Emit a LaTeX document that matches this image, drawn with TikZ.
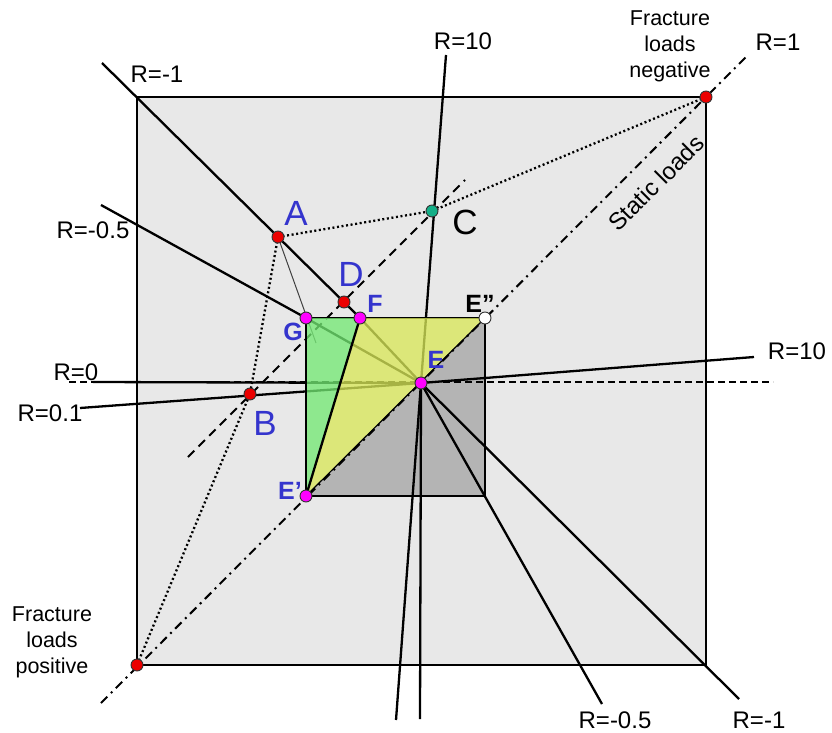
\documentclass[tikz,border=0pt]{standalone}
\usepackage{fontspec}
\setmainfont{Liberation Sans}
\definecolor{bgsq}{RGB}{232,232,232}
\definecolor{smsq}{RGB}{180,180,180}
\definecolor{yfill}{RGB}{237,254,97}
\definecolor{gfill}{RGB}{126,255,126}
\definecolor{lblue}{RGB}{52,52,205}
\definecolor{ptred}{RGB}{235,0,0}
\definecolor{ptteal}{RGB}{20,175,135}
\definecolor{ptmag}{RGB}{255,0,255}
\begin{document}
\begin{tikzpicture}[x=1pt,y=-1pt,
  ln/.style={line width=2.3pt},
  thinln/.style={line width=1pt, black!75},
  dotln/.style={line width=2.3pt, dash pattern=on 2pt off 2.6pt},
  dashln/.style={line width=2pt, dash pattern=on 9pt off 6pt},
  dashdotln/.style={line width=2pt, dash pattern=on 9pt off 5pt on 2pt off 5pt},
  zeroln/.style={line width=1.7pt, dash pattern=on 7pt off 4pt},
  lbl/.style={font=\fontsize{24}{26}\selectfont, inner sep=0pt},
  flbl/.style={font=\fontsize{21.5}{26}\selectfont, inner sep=0pt, align=center},
  big/.style={font=\fontsize{35}{36}\selectfont, inner sep=0pt, text=lblue},
  bld/.style={font=\fontsize{25}{27}\selectfont\bfseries, inner sep=0pt, text=lblue},
  pt/.style={circle, inner sep=0pt, minimum size=12pt, draw=black!80, line width=0.9pt},
]
\useasboundingbox (0,0) rectangle (832,733);

% key points
\coordinate (TL) at (137,97);
\coordinate (TR) at (706,97);
\coordinate (BR) at (706,665);
\coordinate (BL) at (137,665);
\coordinate (G) at (306,318);
\coordinate (Epp) at (485,318);
\coordinate (SBR) at (485,496);
\coordinate (Ep) at (306,496);
\coordinate (E) at (421,383);
\coordinate (F) at (360,318);
\coordinate (A) at (278,237);
\coordinate (D) at (344,302);
\coordinate (B) at (250,394);
\coordinate (C) at (432,211);
% free ends
\coordinate (m1a) at (102,63);
\coordinate (m1b) at (739,699);
\coordinate (m05a) at (101,205);
\coordinate (m05b) at (602,704);
\coordinate (t10a) at (446,55);
\coordinate (t10b) at (396,720);
\coordinate (vb) at (420,719);
\coordinate (r10) at (754,357);
\coordinate (p01) at (80,408);
\coordinate (z0) at (93,382);
\coordinate (z0a) at (69,382);
\coordinate (z0b) at (773,382);
\coordinate (da) at (188,457);
\coordinate (db) at (465,180);
\coordinate (dda) at (101,703);
\coordinate (ddb) at (746,57);
\coordinate (Gx) at (316,343);

% squares
\draw[fill=bgsq, line width=2.3pt] (TL) rectangle (BR);
\fill[smsq] (G) rectangle (SBR);
\draw[line width=2pt] (G) -- (Epp);

% lines
\draw[ln] (m1a) -- (F) -- (E) -- (m1b);
\draw[ln] (m05a) -- (G) -- (E) -- (m05b);
\draw[ln] (t10a) -- (E) -- (t10b);
\draw[ln] (E) -- (vb);
\draw[ln] (E) -- (r10);
\draw[ln] (p01) -- (E);
\draw[zeroln] (z0a) -- (z0b);
\draw[ln] (z0) -- (E);
\draw[dashln] (da) -- (db);
\draw[dotln] (A) -- (C) -- (TR);
\draw[dotln] (A) -- (B) -- (BL);
\draw[thinln] (A) -- (Gx);

% coloured regions
\fill[yfill, opacity=0.7] (F) -- (Epp) -- (Ep) -- cycle;
\fill[gfill, opacity=0.7] (G) -- (F) -- (Ep) -- cycle;
\draw[line width=2pt] (Epp) -- (SBR) -- (Ep) -- (G);
\draw[ln] (F) -- (Ep);
\draw[line width=1.2pt] (Ep) -- (Epp);
\draw[dashdotln] (dda) -- (ddb);

% points
\node[pt, fill=ptred] (pA) at (A) {};
\node[pt, fill=ptred] (pD) at (D) {};
\node[pt, fill=ptred] (pB) at (B) {};
\node[pt, fill=ptred] (pTR) at (TR) {};
\node[pt, fill=ptred] (pBL) at (BL) {};
\node[pt, fill=ptteal] (pC) at (C) {};
\node[pt, fill=ptmag] (pG) at (G) {};
\node[pt, fill=ptmag] (pF) at (F) {};
\node[pt, fill=ptmag] (pE) at (E) {};
\node[pt, fill=ptmag] (pEp) at (Ep) {};
\node[pt, fill=white] (pEpp) at (Epp) {};

% labels
\node[lbl] (l1) at (157,74) {R=-1};
\node[lbl] (l2) at (463,41) {R=10};
\node[lbl] (l3) at (778,42) {R=1};
\node[flbl] (l4) at (670,46) {Fracture\\loads\\negative};
\node[lbl, rotate=45] (l5) at (656,183) {Static loads};
\node[lbl] (l6) at (93,230) {R=-0.5};
\node[lbl] (l7) at (76,372) {R=0};
\node[lbl] (l8) at (50,413) {R=0.1};
\node[lbl] (l9) at (797,351) {R=10};
\node[flbl] (l10) at (52,642) {Fracture\\loads\\positive};
\node[lbl] (l11) at (615,720) {R=-0.5};
\node[lbl] (l12) at (759,720) {R=-1};

\node[big] (tA) at (296,213) {A};
\node[big] (tD) at (351,274) {D};
\node[big, text=black] (tC) at (465,222) {C};
\node[big] (tB) at (265,423) {B};
\node[bld] (tF) at (375,304) {F};
\node[bld] (tG) at (293,332) {G};
\node[bld] (tE) at (436,360) {E};
\node[bld] (tEp) at (290,491) {E’};
\node[bld, text=black] (tEpp) at (480,304) {E”};
\end{tikzpicture}
\end{document}
